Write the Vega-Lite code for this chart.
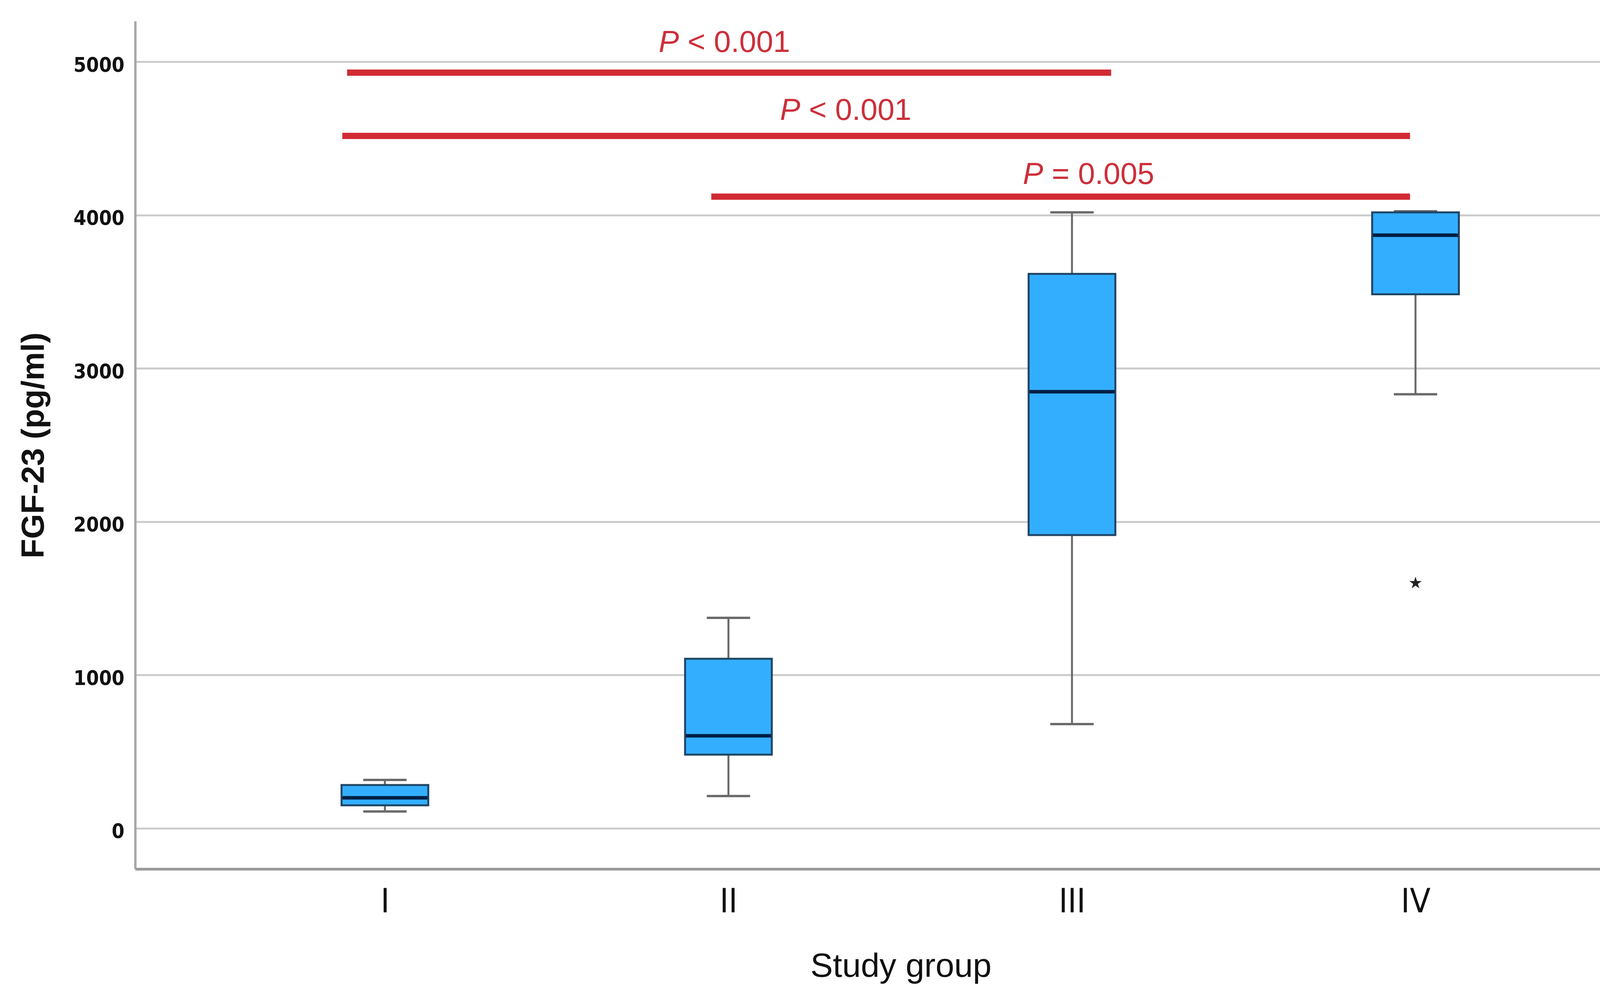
{
  "$schema": "https://vega.github.io/schema/vega-lite/v6.json",
  "autosize": "none",
  "width": 3919,
  "height": 2171,
  "padding": {"left": 346, "top": 54, "right": 55, "bottom": 315},
  "background": "white",
  "config": {"view": {"stroke": null}},
  "datasets": {
    "boxes": [
      {"g": 1, "group": "I", "lower": 110, "q1": 150, "median": 199, "q3": 283, "upper": 316},
      {"g": 2, "group": "II", "lower": 211, "q1": 481, "median": 604, "q3": 1106, "upper": 1373},
      {"g": 3, "group": "III", "lower": 680, "q1": 1913, "median": 2848, "q3": 3617, "upper": 4018},
      {"g": 4, "group": "IV", "lower": 2832, "q1": 3484, "median": 3869, "q3": 4018, "upper": 4025}
    ],
    "outliers": [
      {"g": 4, "group": "IV", "value": 1600}
    ],
    "sig": [
      {"from": 0.890, "to": 3.114, "y": 4930, "tx": 1.797, "ty": 5065, "rest": "< 0.001"},
      {"from": 0.876, "to": 3.984, "y": 4517, "tx": 2.150, "ty": 4622, "rest": "< 0.001"},
      {"from": 1.950, "to": 3.984, "y": 4121, "tx": 2.857, "ty": 4204, "rest": "= 0.005"}
    ]
  },
  "layer": [
    {
      "data": {"name": "boxes"},
      "mark": {"type": "rule", "color": "#6a6a6a", "strokeWidth": 5},
      "encoding": {
        "x": {
          "field": "g", "type": "quantitative",
          "scale": {"domain": [0.2787, 4.7235], "nice": false, "zero": false},
          "axis": {
            "values": [1, 2, 3, 4],
            "labelExpr": "['I','II','III','IV'][datum.value-1]",
            "title": "Study group",
            "grid": false, "ticks": false, "tickSize": 0,
            "domainColor": "#9a9a9a", "domainWidth": 7,
            "labelFont": "Liberation Sans Narrow, DejaVu Sans Condensed, Liberation Sans, sans-serif", "labelFontSize": 86, "labelColor": "#111111",
            "labelPadding": 42, "labelFlush": false,
            "titleFont": "Liberation Sans, Arial, sans-serif", "titleFontSize": 86, "titleFontWeight": "normal", "titleColor": "#111111",
            "titleBaseline": "alphabetic", "titleY": 275, "titleX": 1960, "titleAlign": "center"
          }
        },
        "y": {
          "field": "lower", "type": "quantitative",
          "scale": {"domain": [-265, 5266], "nice": false, "zero": false},
          "axis": {
            "values": [0, 1000, 2000, 3000, 4000, 5000],
            "format": "d",
            "title": "FGF-23 (pg/ml)",
            "grid": true, "gridColor": "#cccccc", "gridWidth": 5,
            "ticks": false, "tickSize": 0,
            "domainColor": "#a6a6a6", "domainWidth": 6,
            "labelFont": "Liberation Sans Narrow, DejaVu Sans Condensed, Liberation Sans, sans-serif", "labelFontSize": 52, "labelFontWeight": "bold", "labelColor": "#111111",
            "labelPadding": 28, "labelOffset": 9,
            "titleFont": "Liberation Sans, Arial, sans-serif", "titleFontSize": 82, "titleFontWeight": "bold", "titleColor": "#111111",
            "titleBaseline": "alphabetic", "titleX": -235, "titleY": 1086, "titleAlign": "center", "titleAngle": -90
          }
        },
        "y2": {"field": "upper"}
      }
    },
    {
      "data": {"name": "boxes"},
      "mark": {"type": "tick", "orient": "horizontal", "size": 111, "thickness": 6, "color": "#6a6a6a", "opacity": 1},
      "encoding": {
        "x": {"field": "g", "type": "quantitative"},
        "y": {"field": "lower", "type": "quantitative"}
      }
    },
    {
      "data": {"name": "boxes"},
      "mark": {"type": "tick", "orient": "horizontal", "size": 111, "thickness": 6, "color": "#6a6a6a", "opacity": 1},
      "encoding": {
        "x": {"field": "g", "type": "quantitative"},
        "y": {"field": "upper", "type": "quantitative"}
      }
    },
    {
      "data": {"name": "boxes"},
      "mark": {"type": "bar", "width": 222, "fill": "#33aeff", "stroke": "#1f4565", "strokeWidth": 5, "opacity": 1},
      "encoding": {
        "x": {"field": "g", "type": "quantitative"},
        "y": {"field": "q1", "type": "quantitative"},
        "y2": {"field": "q3"}
      }
    },
    {
      "data": {"name": "boxes"},
      "mark": {"type": "tick", "orient": "horizontal", "size": 218, "thickness": 9, "color": "#021e44", "opacity": 1},
      "encoding": {
        "x": {"field": "g", "type": "quantitative"},
        "y": {"field": "median", "type": "quantitative"}
      }
    },
    {
      "data": {"name": "outliers"},
      "mark": {"type": "point", "filled": true, "color": "#222222", "opacity": 1, "size": 1100,
        "shape": "M0,-1L0.2245,-0.309L0.951,-0.309L0.363,0.118L0.588,0.809L0,0.382L-0.588,0.809L-0.363,0.118L-0.951,-0.309L-0.2245,-0.309Z"},
      "encoding": {
        "x": {"field": "g", "type": "quantitative"},
        "y": {"field": "value", "type": "quantitative"}
      }
    },
    {
      "data": {"name": "sig"},
      "mark": {"type": "rule", "color": "#d22a33", "strokeWidth": 16},
      "encoding": {
        "x": {"field": "from", "type": "quantitative"},
        "x2": {"field": "to"},
        "y": {"field": "y", "type": "quantitative"}
      }
    },
    {
      "data": {"name": "sig"},
      "mark": {"type": "text", "text": "P", "align": "left", "baseline": "alphabetic", "font": "Liberation Sans, Arial, sans-serif", "fontSize": 78, "fontStyle": "italic", "color": "#cc2f3a"},
      "encoding": {
        "x": {"field": "tx", "type": "quantitative"},
        "y": {"field": "ty", "type": "quantitative"}
      }
    },
    {
      "data": {"name": "sig"},
      "mark": {"type": "text", "align": "left", "baseline": "alphabetic", "dx": 74, "font": "Liberation Sans, Arial, sans-serif", "fontSize": 78, "color": "#cc2f3a"},
      "encoding": {
        "x": {"field": "tx", "type": "quantitative"},
        "y": {"field": "ty", "type": "quantitative"},
        "text": {"field": "rest"}
      }
    }
  ]
}
